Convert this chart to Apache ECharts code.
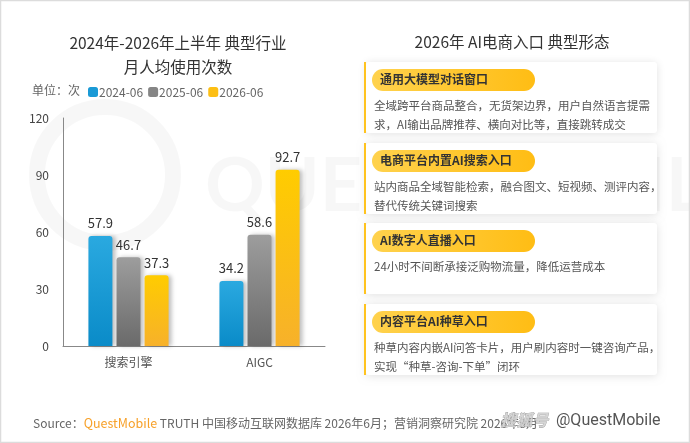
<!DOCTYPE html>
<html>
<head>
<meta charset="utf-8">
<script src="https://cdn.jsdelivr.net/npm/echarts@6/dist/echarts.min.js"></script>
<style>
  html, body { margin: 0; padding: 0; background: #fff; }
  #chart { width: 690px; height: 443px; }
</style>
</head>
<body>
<div id="chart"></div>
<script>
(function () {
  'use strict';

  var categories = ['搜索引擎', 'AIGC'];
  var seriesNames = ['2024-06', '2025-06', '2026-06'];
  var values2024 = [57.9, 34.2];
  var values2025 = [46.7, 58.6];
  var values2026 = [37.3, 92.7];
  var yTicks = [0, 30, 60, 90, 120];

  var cardTitles = ['通用大模型对话窗口', '电商平台内置AI搜索入口', 'AI数字人直播入口', '内容平台AI种草入口'];
  var cardTexts = [
    '全域跨平台商品整合，无货架边界，用户自然语言提需\n求，AI输出品牌推荐、横向对比等，直接跳转成交',
    '站内商品全域智能检索，融合图文、短视频、测评内容，\n替代传统关键词搜索',
    '24小时不间断承接泛购物流量，降低运营成本',
    '种草内容内嵌AI问答卡片，用户刷内容时一键咨询产品，\n实现“种草-咨询-下单”闭环'
  ];

  var FONT = '"Noto Sans CJK SC", "Noto Sans", sans-serif';

  function grad(top, bottom) {
    return new echarts.graphic.LinearGradient(0, 0, 0, 1, [
      { offset: 0, color: top },
      { offset: 1, color: bottom }
    ]);
  }

  var barColors = [
    grad('#2aa9e0', '#0a8bc8'),
    grad('#9d9d9d', '#6a6a6a'),
    grad('#ffcc00', '#f7b12a')
  ];
  var legendColors = ['#1a9ad6', '#858585', '#fdbf14'];
  var seriesData = [values2024, values2025, values2026];

  function makeSeries(i) {
    return {
      name: seriesNames[i],
      type: 'bar',
      barWidth: 24,
      barGap: '17%',
      data: seriesData[i],
      itemStyle: {
        color: barColors[i],
        borderRadius: [3, 3, 0, 0],
        shadowColor: 'rgba(0,0,0,0.25)',
        shadowBlur: 4,
        shadowOffsetX: 3,
        shadowOffsetY: 0
      },
      label: {
        show: true,
        position: 'top',
        distance: 6,
        color: '#333',
        fontSize: 13,
        fontFamily: FONT
      }
    };
  }

  // right panel cards
  var cardTop = [62, 143, 223, 304];
  var cardH = 71;
  var graphics = [];

  // faint watermark
  graphics.push({
    type: 'circle', silent: true, z: -10,
    shape: { cx: 105, cy: 175, r: 68 },
    style: { fill: 'none', stroke: 'rgba(0,0,0,0.03)', lineWidth: 16 }
  });
  graphics.push({
    type: 'text', silent: true, z: -10, left: 205, top: 150,
    style: { text: 'QUEST MOBILE', fontSize: 74, fontWeight: 'bold', fontFamily: 'Lato, sans-serif', fill: 'rgba(0,0,0,0.03)' }
  });

  graphics.push({
    type: 'text', left: 32, top: 84,
    style: { text: '单位：次', fontSize: 12, fill: '#666', fontFamily: FONT }
  });

  graphics.push({
    type: 'text', x: 512, y: 42,
    style: {
      text: '2026年 AI电商入口 典型形态', fontSize: 15.5, fill: '#333', fontFamily: FONT,
      align: 'center', verticalAlign: 'middle'
    }
  });

  for (var i = 0; i < cardTitles.length; i += 1) {
    var y = cardTop[i];
    graphics.push({
      type: 'rect', shape: { x: 366, y: y, width: 291, height: cardH, r: 3 },
      style: { fill: '#fff', shadowColor: 'rgba(0,0,0,0.12)', shadowBlur: 8, shadowOffsetY: 1 }
    });
    graphics.push({
      type: 'rect', shape: { x: 364, y: y, width: 2, height: cardH },
      style: { fill: '#ffc31f' }
    });
    graphics.push({
      type: 'rect', shape: { x: 372, y: y + 7, width: 163, height: 22, r: 11 },
      style: {
        fill: new echarts.graphic.LinearGradient(0, 0, 1, 0, [
          { offset: 0, color: '#ffd24d' },
          { offset: 1, color: '#ffbd14' }
        ])
      }
    });
    graphics.push({
      type: 'text', left: 380, top: y + 11,
      style: { text: cardTitles[i], fontSize: 12, fontWeight: 'bold', fill: '#333', fontFamily: FONT }
    });
    graphics.push({
      type: 'text', left: 374, top: y + 34,
      style: { text: cardTexts[i], fontSize: 11.5, lineHeight: 19, fill: '#555', fontFamily: FONT }
    });
  }

  // footer
  graphics.push({
    type: 'text', left: 33, top: 417,
    style: {
      text: '{a|Source：}{b|QuestMobile}{a| TRUTH 中国移动互联网数据库 2026年6月；营销洞察研究院 2026年8月}',
      fontFamily: FONT,
      rich: {
        a: { fontSize: 12, fill: '#666', fontFamily: FONT },
        b: { fontSize: 12.5, fill: '#f7a12a', fontFamily: FONT }
      }
    }
  });
  graphics.push({
    type: 'text', left: 500, top: 412,
    style: { text: '搜狐号', fontSize: 16, fontStyle: 'italic', fontWeight: 'bold', fill: 'rgba(210,210,210,0.9)', stroke: '#999', lineWidth: 0.6, fontFamily: FONT }
  });
  graphics.push({
    type: 'text', left: 556, top: 413,
    style: { text: '@QuestMobile', fontSize: 16, fill: '#555', fontFamily: 'Roboto, sans-serif' }
  });

  // outer frame
  graphics.push({
    type: 'rect', silent: true, z: 100,
    shape: { x: 0.5, y: 0.5, width: 689, height: 442 },
    style: { fill: 'none', stroke: '#dcdcdc', lineWidth: 1.5 }
  });

  var chart = echarts.init(document.getElementById('chart'), null, { renderer: 'canvas' });

  chart.setOption({
    backgroundColor: '#fff',
    animation: false,
    textStyle: { fontFamily: FONT },
    title: {
      text: '2024年-2026年上半年 典型行业\n月人均使用次数',
      left: 173,
      top: 26,
      textAlign: 'center',
      textStyle: { fontSize: 15.5, fontWeight: 'normal', color: '#333', lineHeight: 24, fontFamily: FONT }
    },
    legend: {
      left: 83,
      top: 81,
      itemWidth: 10,
      itemHeight: 10,
      itemGap: 5,
      icon: 'roundRect',
      textStyle: { fontSize: 12, color: '#666', fontFamily: FONT, padding: [0, 0, 0, -4] },
      data: seriesNames.map(function (n, k) {
        return { name: n, itemStyle: { color: legendColors[k] } };
      })
    },
    grid: { left: 63, right: 365, top: 118, bottom: 97 },
    xAxis: {
      type: 'category',
      data: categories,
      axisLine: { lineStyle: { color: '#888', width: 1 } },
      axisTick: { show: false },
      axisLabel: { color: '#555', fontSize: 12, margin: 10, fontFamily: FONT }
    },
    yAxis: {
      type: 'value',
      min: yTicks[0],
      max: yTicks[yTicks.length - 1],
      interval: 30,
      axisLine: { show: true, lineStyle: { color: '#888', width: 1 } },
      axisTick: { show: false },
      splitLine: { show: false },
      axisLabel: { color: '#444', fontSize: 12, margin: 14, fontFamily: FONT }
    },
    series: [makeSeries(0), makeSeries(1), makeSeries(2)],
    graphic: { elements: graphics }
  });

  window.addEventListener('resize', function () {
    chart.resize();
  });
})();
</script>
</body>
</html>
